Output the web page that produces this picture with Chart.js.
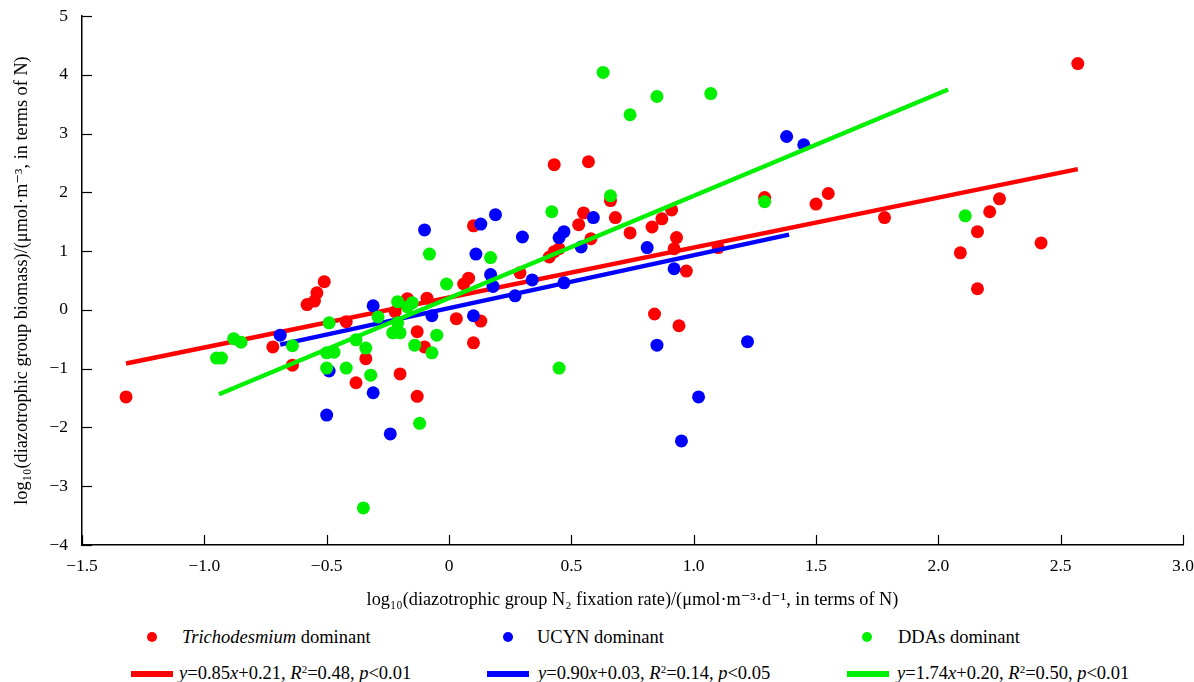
<!DOCTYPE html>
<html>
<head>
<meta charset="utf-8">
<script src="https://cdn.jsdelivr.net/npm/chart.js@4.4.1/dist/chart.umd.min.js"></script>
<style>
  html, body { margin: 0; padding: 0; background: #fff; }
  #wrap { position: relative; width: 1194px; height: 682px; font-family: "Liberation Serif", "DejaVu Serif", serif; color: #000; }
  #box { position: absolute; left: 0; top: 0; width: 1194px; height: 612px; }
  .dot { position: absolute; width: 10px; height: 10px; border-radius: 50%; }
  .bar { position: absolute; height: 6px; }
  .txt { position: absolute; font-size: 18.5px; line-height: 22px; white-space: nowrap; }
  .txt sup { font-size: 11px; vertical-align: 6px; line-height: 0; }
</style>
</head>
<body>
<div id="wrap">
  <div id="box"><canvas id="chart" width="1194" height="612"></canvas></div>

  <div class="dot" style="left:147px; top:632px; background:#ff0000"></div>
  <div class="txt" style="left:182px; top:626px"><i>Trichodesmium</i> dominant</div>
  <div class="dot" style="left:503px; top:632px; background:#0000ff"></div>
  <div class="txt" style="left:537px; top:626px">UCYN dominant</div>
  <div class="dot" style="left:862px; top:632px; background:#00f000"></div>
  <div class="txt" style="left:898px; top:626px">DDAs dominant</div>

  <div class="bar" style="left:131px; top:671px; width:42px; background:#ff0000"></div>
  <div class="txt" style="left:179px; top:662px"><i>y</i>=0.85<i>x</i>+0.21, <i>R</i><sup>2</sup>=0.48, <i>p</i>&lt;0.01</div>
  <div class="bar" style="left:487px; top:671px; width:42px; background:#0000ff"></div>
  <div class="txt" style="left:538px; top:662px"><i>y</i>=0.90<i>x</i>+0.03, <i>R</i><sup>2</sup>=0.14, <i>p</i>&lt;0.05</div>
  <div class="bar" style="left:847px; top:671px; width:42px; background:#00f000"></div>
  <div class="txt" style="left:897px; top:662px"><i>y</i>=1.74<i>x</i>+0.20, <i>R</i><sup>2</sup>=0.50, <i>p</i>&lt;0.01</div>
</div>

<script>
// Trichodesmium dominant
const trichoX = [-1.32, -0.72, -0.64, -0.58, -0.55, -0.54, -0.51, -0.42, -0.38, -0.34, -0.22, -0.20, -0.17, -0.13, -0.13, -0.10, -0.09, 0.03, 0.06, 0.08, 0.10, 0.10, 0.13, 0.29, 0.41, 0.43, 0.45, 0.43, 0.53, 0.55, 0.57, 0.58, 0.66, 0.68, 0.74, 0.83, 0.84, 0.87, 0.91, 0.92, 0.93, 0.94, 0.97, 1.10, 1.29, 1.50, 1.55, 1.78, 2.09, 2.16, 2.16, 2.21, 2.25, 2.42, 2.57];
const trichoY = [-1.48, -0.63, -0.94, 0.09, 0.15, 0.29, 0.48, -0.20, -1.24, -0.83, -0.03, -1.09, 0.19, -0.37, -1.47, -0.63, 0.20, -0.15, 0.44, 0.54, 1.43, -0.56, -0.19, 0.63, 0.90, 0.99, 1.04, 2.47, 1.45, 1.65, 2.52, 1.21, 1.86, 1.57, 1.31, 1.41, -0.07, 1.55, 1.70, 1.04, 1.23, -0.27, 0.66, 1.06, 1.91, 1.80, 1.98, 1.57, 0.97, 1.33, 0.36, 1.67, 1.89, 1.14, 4.19];

// UCYN dominant
const ucynX = [-0.69, -0.50, -0.49, -0.31, -0.31, -0.24, -0.10, -0.07, 0.10, 0.11, 0.13, 0.17, 0.18, 0.19, 0.27, 0.30, 0.34, 0.45, 0.47, 0.47, 0.54, 0.59, 0.81, 0.85, 0.92, 0.95, 1.02, 1.22, 1.38, 1.45];
const ucynY = [-0.43, -1.79, -1.04, -1.41, 0.07, -2.11, 1.36, -0.10, -0.10, 0.95, 1.46, 0.60, 0.40, 1.62, 0.24, 1.24, 0.51, 1.23, 1.33, 0.46, 1.07, 1.57, 1.06, -0.60, 0.70, -2.23, -1.48, -0.54, 2.95, 2.81];

// DDAs dominant
const ddaX = [-0.95, -0.93, -0.88, -0.85, -0.64, -0.50, -0.47, -0.50, -0.49, -0.42, -0.38, -0.35, -0.34, -0.32, -0.29, -0.23, -0.21, -0.21, -0.20, -0.17, -0.15, -0.14, -0.12, -0.08, -0.07, -0.05, -0.01, 0.17, 0.42, 0.45, 0.63, 0.66, 0.74, 0.85, 1.07, 1.29, 2.11];
const ddaY = [-0.82, -0.82, -0.49, -0.55, -0.61, -0.73, -0.72, -0.99, -0.22, -0.99, -0.51, -3.37, -0.65, -1.11, -0.12, -0.39, 0.14, -0.22, -0.39, 0.05, 0.12, -0.60, -1.93, 0.95, -0.73, -0.43, 0.44, 0.89, 1.67, -0.99, 4.04, 1.94, 3.32, 3.63, 3.68, 1.84, 1.60];

// fitted lines: red, blue, green
const fitSlope = [0.85, 0.90, 1.74];
const fitIntercept = [0.21, 0.03, 0.20];
const fitStart = [-1.32, -0.69, -0.94];
const fitEnd = [2.57, 1.39, 2.04];

// tick labels
const xTicks = [-1.5, -1.0, -0.5, 0, 0.5, 1.0, 1.5, 2.0, 2.5, 3.0];
const yTicks = [-4, -3, -2, -1, 0, 1, 2, 3, 4, 5];

const colors = ['#ff0000', '#0000ff', '#00f000'];
const FONT = "'Liberation Serif', 'DejaVu Serif', serif";

const pts = (xs, ys) => xs.map((x, i) => ({ x: x, y: ys[i] }));
const fitLine = i => [fitStart[i], fitEnd[i]].map(x => ({ x: x, y: fitSlope[i] * x + fitIntercept[i] }));
const minus = s => String(s).replace('-', '\u2212');

function scatterSet(label, data, color, order) {
  return { type: 'scatter', label, data, order, backgroundColor: color, borderWidth: 0, pointRadius: 6.5, pointHoverRadius: 6.5 };
}
function lineSet(label, data, color, order) {
  return { type: 'line', label, data, order, borderColor: color, borderWidth: 4.5, pointRadius: 0, fill: false, tension: 0 };
}

// inward tick marks
const innerTicks = {
  id: 'innerTicks',
  afterDraw(chart) {
    const { ctx, chartArea, scales } = chart;
    ctx.save();
    ctx.strokeStyle = '#000';
    ctx.lineWidth = 1.2;
    xTicks.forEach(v => {
      const px = Math.round(scales.x.getPixelForValue(v)) + 0.5;
      ctx.beginPath(); ctx.moveTo(px, chartArea.bottom); ctx.lineTo(px, chartArea.bottom - 10); ctx.stroke();
    });
    yTicks.forEach(v => {
      const py = Math.round(scales.y.getPixelForValue(v)) + 0.5;
      ctx.beginPath(); ctx.moveTo(chartArea.left, py); ctx.lineTo(chartArea.left + 10, py); ctx.stroke();
    });
    ctx.restore();
  }
};

new Chart(document.getElementById('chart'), {
  type: 'scatter',
  data: {
    datasets: [
      lineSet('DDAs fit', fitLine(2), colors[2], 0),
      scatterSet('DDAs dominant', pts(ddaX, ddaY), colors[2], 1),
      lineSet('UCYN fit', fitLine(1), colors[1], 2),
      scatterSet('UCYN dominant', pts(ucynX, ucynY), colors[1], 3),
      lineSet('Trichodesmium fit', fitLine(0), colors[0], 4),
      scatterSet('Trichodesmium dominant', pts(trichoX, trichoY), colors[0], 5)
    ]
  },
  options: {
    responsive: false,
    animation: false,
    devicePixelRatio: 1,
    layout: { padding: { top: 16, right: 11, left: 0, bottom: 0 } },
    plugins: { legend: { display: false }, tooltip: { enabled: false } },
    scales: {
      x: {
        type: 'linear', min: -1.5, max: 3.0,
        afterBuildTicks: s => { s.ticks = xTicks.map(v => ({ value: v })); },
        afterFit: s => { s.height = 67; s.paddingLeft = 0; s.paddingRight = 0; },
        grid: { display: true, drawOnChartArea: false, drawTicks: false },
        border: { display: true, color: '#000', width: 1.5 },
        ticks: {
          autoSkip: false, maxRotation: 0, padding: 11, color: '#000',
          font: { family: FONT, size: 17.5 },
          callback: v => v === 0 ? '0' : minus(v.toFixed(1))
        },
        title: {
          display: true, color: '#000', padding: { top: 0, bottom: 1 },
          font: { family: FONT, size: 18.3 },
          text: 'log\u2081\u2080(diazotrophic group N\u2082 fixation rate)/(\u03bcmol\u00b7m\u207b\u00b3\u00b7d\u207b\u00b9, in terms of N)'
        }
      },
      y: {
        type: 'linear', min: -4, max: 5,
        afterBuildTicks: s => { s.ticks = yTicks.map(v => ({ value: v })); },
        afterFit: s => { s.width = 82; s.paddingTop = 0; s.paddingBottom = 0; },
        grid: { display: true, drawOnChartArea: false, drawTicks: false },
        border: { display: true, color: '#000', width: 1.5 },
        ticks: {
          autoSkip: false, padding: 14, color: '#000',
          font: { family: FONT, size: 17.5 },
          callback: v => minus(v)
        },
        title: {
          display: true, color: '#000', padding: { top: 11, bottom: 0 },
          font: { family: FONT, size: 18.3 },
          text: 'log\u2081\u2080(diazotrophic group biomass)/(\u03bcmol\u00b7m\u207b\u00b3, in terms of N)'
        }
      }
    }
  },
  plugins: [innerTicks]
});
</script>
</body>
</html>
